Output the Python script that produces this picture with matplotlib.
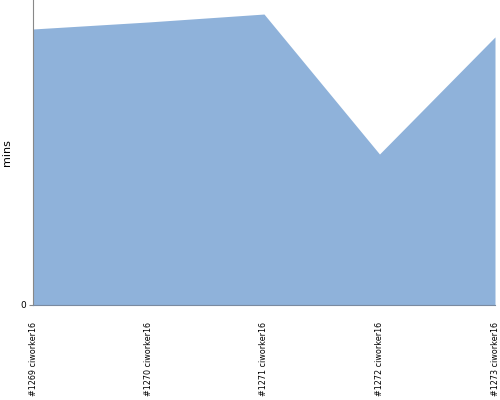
import matplotlib
matplotlib.use('Agg')
import matplotlib.pyplot as plt

# builds and their run time in minutes
builds = ['#1269 ciworker16', '#1270 ciworker16', '#1271 ciworker16',
          '#1272 ciworker16', '#1273 ciworker16']
mins = [90.5, 92.8, 95.4, 49.5, 87.9]
y_max = 100

fig = plt.figure(figsize=(5, 4), dpi=100)
ax = fig.add_axes([0.066, 0.2375, 0.924, 0.7625])

x = list(range(len(builds)))
ax.fill_between(x, 0, mins, color='#8fb2da', linewidth=0)

ax.set_xlim(0, len(builds) - 1)
ax.set_ylim(0, y_max)

ax.set_xticks(x)
ax.set_xticklabels(builds, rotation=90, fontsize=5.8, va='top', ha='center',
                   family=['Liberation Sans Narrow', 'DejaVu Sans'])
ax.tick_params(axis='x', length=0, pad=12)
ax.set_yticks([0])
ax.tick_params(axis='y', length=3, color='#888888', labelsize=6.5, pad=2)

ax.set_ylabel('mins', fontsize=8, labelpad=6)

for side in ['top', 'right']:
    ax.spines[side].set_visible(False)
ax.spines['left'].set_color('#888888')
ax.spines['bottom'].set_color('#7a8aa0')

fig.savefig('out.png', dpi=100)
